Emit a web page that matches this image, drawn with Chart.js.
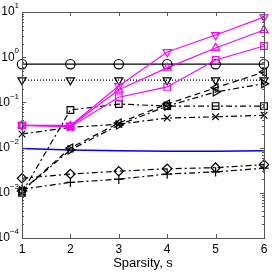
<!DOCTYPE html>
<html>
<head>
<meta charset="utf-8">
<script src="https://cdn.jsdelivr.net/npm/chart.js@4/dist/chart.umd.min.js"></script>
<style>
  html, body { margin: 0; padding: 0; background: #fff; }
  #wrap { width: 272px; height: 273px; }
</style>
</head>
<body>
<div id="wrap"><canvas id="chart" width="272" height="273"></canvas></div>
<script>
// Sparsity values on the x axis
const sparsity = ["1", "2", "3", "4", "5", "6"];

// Magenta series
const magentaDown = [0.031, 0.031, 0.23, 1.3, 3.1, 7.7];
const magentaUp = [0.031, 0.030, 0.19, 0.58, 1.6, 4.0];
const magentaSquare = [0.031, 0.029, 0.13, 0.22, 0.87, 1.77];

// Black series
const circleSolid = [0.7, 0.7, 0.7, 0.7, 0.7, 0.7];
const downDotted = [0.31, 0.31, 0.31, 0.31, 0.31, 0.31];
const leftTriDashed = [0.0011, 0.0098, 0.035, 0.092, 0.21, 0.47];
const rightTriDashDot = [0.0011, 0.0089, 0.0316, 0.083, 0.17, 0.26];
const squareDashDot = [0.001, 0.068, 0.092, 0.083, 0.083, 0.083];
const crossDashDot = [0.02, 0.028, 0.033, 0.045, 0.048, 0.052];
const diamondDashDot = [0.0021, 0.0026, 0.003, 0.0034, 0.0036, 0.0042];
const plusDashDot = [0.0012, 0.0017, 0.002, 0.0026, 0.0029, 0.0035];

// Blue series, no markers
const blueSolid = [0.0095, 0.0088, 0.0085, 0.0083, 0.0083, 0.0085];

// y axis decades
const decades = [-4, -3, -2, -1, 0, 1];

const DASHDOT = [6, 3, 2, 3];

function series(data, color, style, rotation, dash, width) {
    return {
        data: data,
        borderColor: color,
        backgroundColor: "transparent",
        borderWidth: width || 1.2,
        borderDash: dash || [],
        pointStyle: style,
        pointRotation: rotation || 0,
        pointRadius: style ? 4.7 : 0,
        pointBorderColor: color,
        pointBackgroundColor: "transparent",
        pointBorderWidth: 1.2,
        tension: 0,
        clip: false
    };
}

// Frame, inward ticks and y labels drawn MATLAB style
const framePlugin = {
    id: "frame",
    afterDraw(chart) {
        const ctx = chart.ctx;
        const a = chart.chartArea;
        const xs = chart.scales.x;
        const ys = chart.scales.y;
        ctx.save();
        ctx.strokeStyle = "#555";
        ctx.lineWidth = 1;
        ctx.strokeRect(Math.round(a.left) + 0.5, Math.round(a.top) + 0.5,
            Math.round(a.right - a.left), Math.round(a.bottom - a.top));

        ctx.beginPath();
        sparsity.forEach((s, i) => {
            const px = Math.round(xs.getPixelForValue(i)) + 0.5;
            ctx.moveTo(px, a.bottom); ctx.lineTo(px, a.bottom - 4);
            ctx.moveTo(px, a.top); ctx.lineTo(px, a.top + 4);
        });
        decades.forEach(d => {
            for (let m = 1; m <= 9; m++) {
                const v = m * Math.pow(10, d);
                if (v > 10) break;
                const py = Math.round(ys.getPixelForValue(v)) + 0.5;
                const len = m === 1 ? 4 : 2;
                ctx.moveTo(a.left, py); ctx.lineTo(a.left + len, py);
                ctx.moveTo(a.right, py); ctx.lineTo(a.right - len, py);
            }
        });
        ctx.stroke();

        ctx.fillStyle = "#000";
        ctx.textBaseline = "middle";
        decades.forEach(d => {
            const py = ys.getPixelForValue(Math.pow(10, d));
            const exp = String(d).replace("-", "\u2212");
            ctx.font = "8px 'Liberation Sans', Arial, sans-serif";
            const ew = ctx.measureText(exp).width;
            ctx.textAlign = "left";
            const right = a.left - 3;
            ctx.fillText(exp, right - ew, py - 6);
            ctx.font = "12px 'Liberation Sans', Arial, sans-serif";
            ctx.textAlign = "right";
            ctx.fillText("10", right - ew, py);
        });
        ctx.restore();
    }
};

const ctx = document.getElementById("chart").getContext("2d");
new Chart(ctx, {
    type: "line",
    data: {
        labels: sparsity,
        datasets: [
            series(magentaDown, "#ff00ff", "triangle", 180),
            series(magentaUp, "#ff00ff", "triangle", 0),
            series(magentaSquare, "#ff00ff", "rect", 0),
            series(circleSolid, "#000", "circle", 0),
            series(downDotted, "#000", "triangle", 180, [1, 2]),
            series(leftTriDashed, "#000", "triangle", 270, [6, 4]),
            series(rightTriDashDot, "#000", "triangle", 90, DASHDOT),
            series(squareDashDot, "#000", "rect", 0, DASHDOT),
            series(crossDashDot, "#000", "crossRot", 0, DASHDOT),
            series(diamondDashDot, "#000", "rectRot", 0, DASHDOT),
            series(plusDashDot, "#000", "cross", 0, DASHDOT),
            series(blueSolid, "#0000ff", false, 0, [], 1.5)
        ]
    },
    options: {
        responsive: false,
        animation: false,
        events: [],
        layout: { padding: { top: 12, right: 8, left: 0, bottom: 0 } },
        plugins: { legend: { display: false }, tooltip: { enabled: false } },
        scales: {
            x: {
                type: "category",
                offset: false,
                grid: { display: false, drawTicks: false },
                border: { display: false },
                ticks: {
                    color: "#000",
                    padding: 4,
                    maxRotation: 0,
                    font: { family: "'Liberation Sans', Arial, sans-serif", size: 12 }
                },
                title: {
                    display: true,
                    text: "Sparsity, s",
                    color: "#000",
                    padding: { top: 0, bottom: 2 },
                    font: { family: "'Liberation Sans', Arial, sans-serif", size: 13 }
                },
                afterFit(scale) { scale.height = 35; }
            },
            y: {
                type: "logarithmic",
                min: 1e-4,
                max: 10,
                grid: { display: false, drawTicks: false },
                border: { display: false },
                ticks: { display: false },
                afterFit(scale) { scale.width = 22; }
            }
        }
    },
    plugins: [framePlugin]
});
</script>
</body>
</html>
